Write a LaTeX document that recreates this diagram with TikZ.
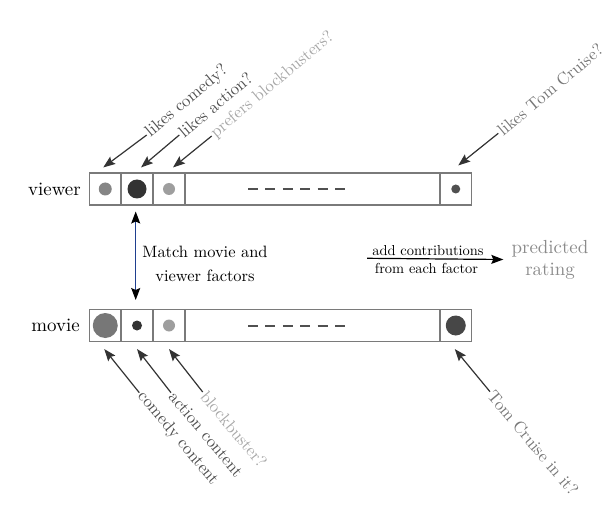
\documentclass[tikz,border=0pt]{standalone}
\usepackage{fontspec}
\setmainfont{lmroman10-regular}[Extension=.otf]
\usetikzlibrary{arrows.meta,calc}
\definecolor{edgegray}{HTML}{7A7A7A}
\definecolor{linegray}{HTML}{333333}
\definecolor{dkgray}{HTML}{505050}
\definecolor{mdgray}{HTML}{777777}
\definecolor{ltgray}{HTML}{A8A8A8}
\definecolor{navy}{HTML}{1F3F8F}
\tikzset{
  cellbox/.style={draw=edgegray, line width=1.1bp, minimum height=32bp, inner sep=0pt},
  dot/.style={circle, inner sep=0pt, draw=none},
  ptr/.style={draw=linegray, line width=1.2bp, -{Stealth[length=12bp,width=9bp,inset=2bp]}},
  toplabel/.style={rotate=40, anchor=west, inner sep=1.5bp, font=\fontsize{17}{20}\selectfont},
  botlabel/.style={rotate=-50, anchor=west, inner sep=1.5bp, font=\fontsize{17}{20}\selectfont},
  rowlabel/.style={anchor=east, inner sep=0pt, font=\fontsize{19}{22}\selectfont}
}
\begin{document}
\begin{tikzpicture}[x=1bp,y=-1bp]
\useasboundingbox (0,0) rectangle (612,511);

% viewer row
\node[cellbox, minimum width=31.5bp] (vc1) at (105.25,189) {};
\node[cellbox, minimum width=32bp] (vc2) at (137,189) {};
\node[cellbox, minimum width=32bp] (vc3) at (169,189) {};
\node[cellbox, minimum width=255bp] (vmid) at (312.5,189) {};
\node[cellbox, minimum width=31.5bp] (vc4) at (455.75,189) {};
\node[dot, fill=mdgray!90, minimum size=13bp] at (vc1) {};
\node[dot, fill=linegray, minimum size=19bp] at (vc2) {};
\node[dot, fill=black!38, minimum size=12bp] at (vc3) {};
\node[dot, fill=dkgray, minimum size=9bp] at (vc4) {};
\draw[draw=dkgray, line width=2bp, dash pattern=on 10bp off 7.4bp] (248,189) -- (345,189);
\node[rowlabel] (viewer) at (81,189) {viewer};

% movie row
\node[cellbox, minimum width=31.5bp] (mc1) at (105.25,325.5) {};
\node[cellbox, minimum width=32bp] (mc2) at (137,325.5) {};
\node[cellbox, minimum width=32bp] (mc3) at (169,325.5) {};
\node[cellbox, minimum width=255bp] (mmid) at (312.5,325.5) {};
\node[cellbox, minimum width=31.5bp] (mc4) at (455.75,325.5) {};
\node[dot, fill=mdgray, minimum size=25bp] at (mc1) {};
\node[dot, fill=linegray, minimum size=10bp] at (mc2) {};
\node[dot, fill=black!38, minimum size=12bp] at (mc3) {};
\node[dot, fill=black!72, minimum size=20bp] at (mc4) {};
\draw[draw=dkgray, line width=2bp, dash pattern=on 10bp off 7.4bp] (248,325.5) -- (345,325.5);
\node[rowlabel] (movie) at (80,325.5) {movie};

% top labels
\node[toplabel, text=dkgray] (lc) at (146.7,135) {likes comedy?};
\node[toplabel, text=dkgray] (la) at (179.3,135) {likes action?};
\node[toplabel, text=ltgray] (lb) at (211.7,136) {prefers blockbusters?};
\node[toplabel, text=mdgray] (lt) at (498.3,133.3) {likes Tom Cruise?};
\draw[ptr] (lc.west) -- ($(vc1.north)+(-2,-5)$);
\draw[ptr] (la.west) -- ($(vc2.north)+(4,-5)$);
\draw[ptr] (lb.west) -- ($(vc3.north)+(4,-5)$);
\draw[ptr] (lt.west) -- ($(vc4.north)+(2.5,-7)$);

% bottom labels
\node[botlabel, text=dkgray] (bc) at (139.3,392.7) {comedy content};
\node[botlabel, text=dkgray] (ba) at (171,392.7) {action content};
\node[botlabel, text=ltgray] (bb) at (202.7,392) {blockbuster?};
\node[botlabel, text=mdgray] (bt) at (490,391.7) {Tom Cruise in it?};
\draw[ptr] (bc.west) -- ($(mc1.south)+(-1,7)$);
\draw[ptr] (ba.west) -- ($(mc2.south)+(0,7)$);
\draw[ptr] (bb.west) -- ($(mc3.south)+(0,7)$);
\draw[ptr] (bt.west) -- ($(mc4.south)+(-1,7)$);

% match arrow
\coordinate (mtop) at (135.7,211.5);
\coordinate (mbot) at (135.7,300);
\draw[draw=navy, line width=1.2bp, {Stealth[black,length=12bp,width=9bp,inset=2bp]}-{Stealth[black,length=12bp,width=9bp,inset=2bp]}] (mtop) -- (mbot);
\node[align=center, font=\fontsize{16.5}{24}\selectfont, inner sep=0pt] (match) at (205,264) {Match movie and\\viewer factors};

% contributions arrow
\coordinate (as) at (367,258.3);
\node[inner sep=0pt, font=\fontsize{19}{22}\selectfont, text=mdgray!85, align=center] (pred) at (550,259.5) {predicted\\rating};
\draw[ptr, draw=black] (as) -- (pred.west -| 503.3,258.3);
\node[font=\fontsize{14.5}{16}\selectfont, inner sep=0pt] (addc) at (428,250.5) {add contributions};
\node[font=\fontsize{14.5}{16}\selectfont, inner sep=0pt] (fromc) at (426.5,268.3) {from each factor};
\end{tikzpicture}
\end{document}
